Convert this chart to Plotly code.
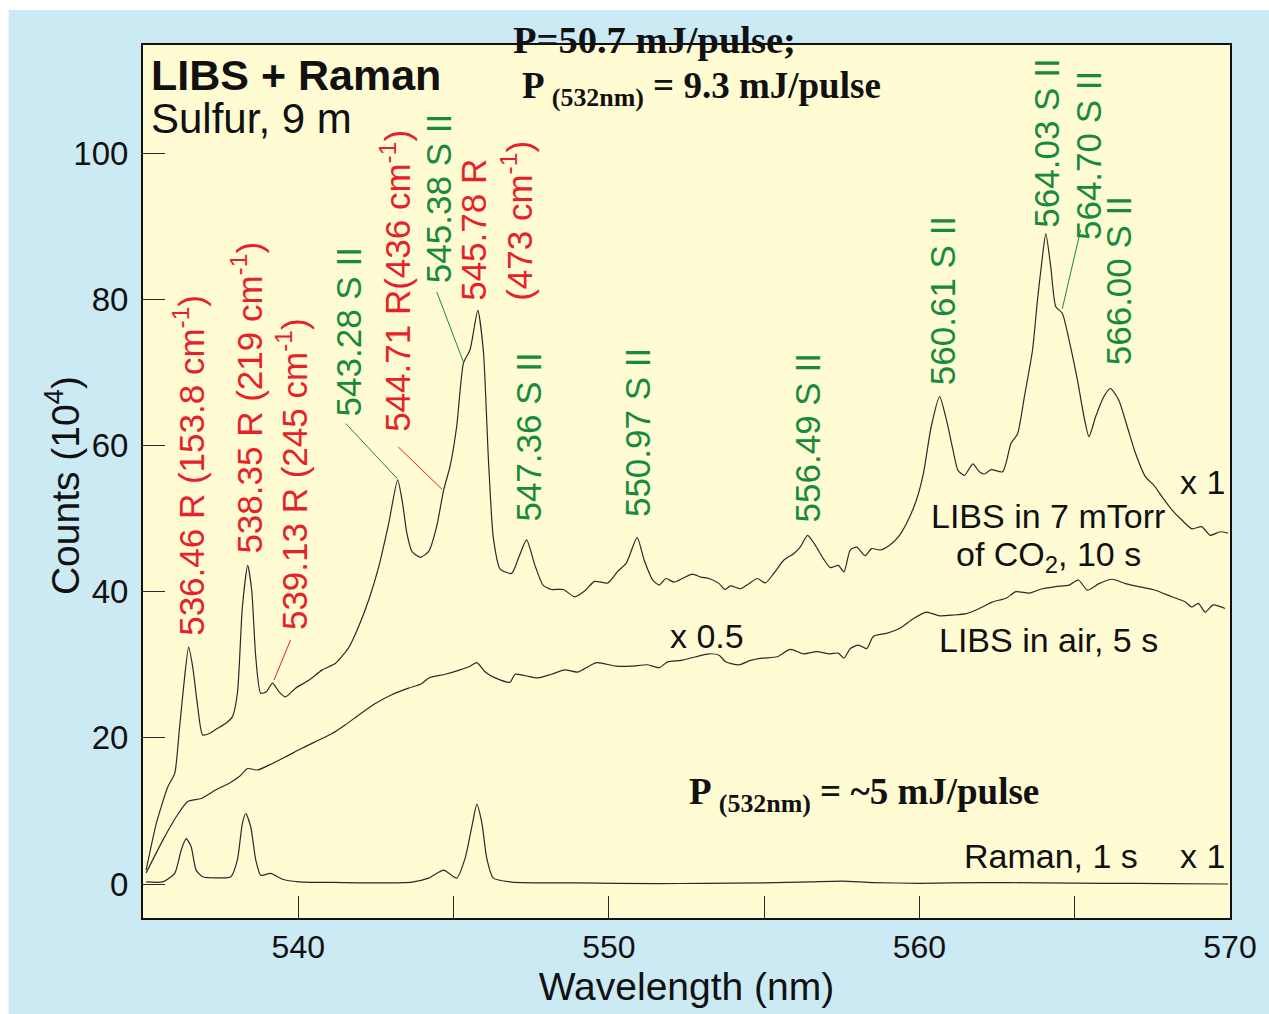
import plotly.graph_objects as go

# ---------------- data ----------------
co2_x = [535.1, 535.43, 535.8, 536.02, 536.17, 536.33, 536.47, 536.6, 536.76, 536.92, 537.14, 537.4, 537.67,
         537.88, 538.04, 538.2, 538.37, 538.5, 538.63, 538.79, 538.97, 539.17, 539.38, 539.59, 539.91, 540.35,
         540.77, 541.2, 541.63, 541.94, 542.27, 542.59, 542.91, 543.2, 543.35, 543.5, 543.66, 543.93, 544.2,
         544.46, 544.68, 544.89, 545.1, 545.32, 545.53, 545.78, 545.96, 546.12, 546.28, 546.5, 546.87, 547.1,
         547.35, 547.62, 547.88, 548.15, 548.53, 548.9, 549.22, 549.54, 549.97, 550.29, 550.56, 550.91, 551.14,
         551.41, 551.62, 551.84, 552.1, 552.37, 552.69, 552.96, 553.23, 553.55, 553.73, 553.92, 554.24, 554.51,
         554.78, 555.04, 555.31, 555.63, 555.95, 556.16, 556.4, 556.64, 556.91, 557.13, 557.39, 557.57, 557.77,
         557.98, 558.25, 558.46, 558.73, 559.05, 559.32, 559.58, 559.9, 560.12, 560.38, 560.65, 560.87, 561.08,
         561.24, 561.45, 561.72, 561.93, 562.09, 562.31, 562.68, 562.95, 563.16, 563.38, 563.64, 563.8, 563.96,
         564.07, 564.23, 564.39, 564.6, 564.82, 565.09, 565.3, 565.46, 565.67, 565.94, 566.15, 566.42, 566.69,
         566.96, 567.28, 567.54, 567.81, 568.13, 568.45, 568.77, 569.09, 569.36, 569.68, 569.94]
co2_y = [1.9, 8.3, 13.3, 15.1, 21.1, 27.9, 32.4, 29.7, 24.3, 20.4, 20.6, 21.3, 22.0,
         22.9, 26.1, 37.9, 43.6, 40.2, 31.1, 26.1, 26.3, 27.5, 26.3, 25.6, 26.8, 27.9,
         29.3, 30.2, 32.4, 35.2, 38.9, 43.4, 49.3, 55.3, 52.3, 47.9, 45.5, 44.7, 45.5,
         49.0, 53.9, 57.2, 62.6, 71.3, 73.1, 78.5, 72.9, 58.3, 47.4, 43.1, 42.5, 44.7,
         47.1, 43.6, 40.9, 40.3, 40.3, 39.3, 40.1, 41.4, 41.2, 42.8, 43.9, 47.4, 44.3,
         41.6, 40.9, 41.8, 41.3, 41.8, 42.4, 42.0, 41.8, 41.1, 40.3, 40.8, 40.4, 41.1,
         41.8, 41.2, 42.5, 44.3, 45.2, 46.1, 47.7, 46.4, 44.5, 43.3, 43.6, 42.7, 45.7,
         46.1, 44.9, 45.9, 45.7, 46.4, 47.5, 49.3, 52.5, 56.0, 62.6, 66.7, 63.5, 59.4,
         56.6, 55.9, 57.5, 56.4, 56.1, 56.7, 56.4, 60.3, 61.6, 66.7, 73.0, 79.9, 85.8,
         89.0, 84.4, 79.0, 78.1, 74.4, 68.9, 63.9, 61.2, 63.9, 66.7, 67.8, 66.2, 62.6,
         58.9, 55.7, 54.6, 53.0, 51.2, 49.8, 48.6, 48.9, 47.7, 48.2, 48.0]

air_x = [535.1, 535.64, 536.07, 536.44, 536.87, 537.35, 537.78, 538.1, 538.37, 538.69, 539.17, 539.59, 540.13,
         540.66, 541.09, 541.52, 541.94, 542.48, 543.01, 543.55, 543.97, 544.2, 544.73, 545.21, 545.53, 545.75,
         546.02, 546.34, 546.82, 546.98, 547.3, 547.72, 548.15, 548.58, 549.0, 549.6, 550.23, 550.72, 551.25,
         551.62, 551.89, 552.32, 552.8, 553.23, 553.55, 553.76, 554.19, 554.56, 554.94, 555.42, 555.84, 556.27,
         556.7, 557.12, 557.39, 557.57, 557.77, 558.04, 558.3, 558.52, 558.94, 559.37, 559.8, 560.22, 560.65,
         561.08, 561.51, 561.93, 562.36, 562.79, 563.11, 563.54, 563.96, 564.39, 564.82, 565.12, 565.41, 565.78,
         566.21, 566.63, 567.06, 567.6, 568.13, 568.56, 568.77, 568.98, 569.2, 569.46, 569.84]
air_y = [1.5, 6.0, 9.2, 11.3, 11.7, 12.9, 13.8, 14.7, 15.8, 15.6, 16.5, 17.4, 18.6,
         19.7, 20.6, 21.8, 23.1, 24.7, 25.9, 26.8, 27.4, 28.2, 28.7, 29.3, 29.8, 30.3,
         29.0, 28.2, 27.6, 28.7, 28.5, 28.2, 28.7, 29.3, 29.0, 30.3, 29.8, 29.8, 30.0,
         29.6, 30.4, 30.6, 31.1, 31.5, 31.3, 30.4, 30.0, 30.6, 30.9, 31.1, 32.1, 31.5,
         31.8, 31.5, 31.6, 30.9, 32.2, 32.7, 32.2, 33.9, 34.3, 35.0, 36.3, 37.2, 36.7,
         36.8, 37.0, 37.7, 38.6, 39.1, 40.0, 39.8, 40.4, 40.7, 40.9, 41.6, 40.2, 41.1,
         41.7, 41.1, 40.7, 40.2, 39.3, 38.6, 37.9, 38.4, 37.2, 38.2, 37.7]

raman_x = [535.1, 535.64, 536.02, 536.23, 536.39, 536.55, 536.71, 536.92, 537.46, 537.83, 538.04, 538.2, 538.31,
           538.47, 538.63, 538.79, 539.11, 539.49, 540.02, 541.41, 542.6, 543.66, 544.2, 544.68, 545.1, 545.37,
           545.59, 545.75, 545.91, 546.07, 546.28, 546.87, 549.0, 551.57, 553.0, 555.0, 556.5, 557.5, 558.5,
           560.0, 562.0, 564.0, 566.0, 568.0, 569.94]
raman_y = [0.3, 0.3, 1.45, 4.65, 6.2, 5.1, 1.9, 1.0, 0.85, 1.0, 3.3, 8.3, 9.65,
           7.8, 3.3, 1.2, 1.45, 0.65, 0.3, 0.2, 0.15, 0.27, 0.8, 1.9, 0.8, 3.5,
           7.9, 10.9, 8.4, 3.5, 0.8, 0.27, 0.15, 0.05, 0.1, 0.15, 0.3, 0.4, 0.2,
           0.1, 0.2, 0.15, 0.1, 0.05, 0.0]

x_tickvals = [540, 545, 550, 555, 560, 565, 570]
x_ticktext = ["540", "", "550", "", "560", "", "570"]
y_tickvals = [0, 20, 40, 60, 80, 100]

# peak labels: text, x, y (label centre), colour key
peak_labels = [
    ("536.46 R (153.8 cm<sup>-1</sup>)", 536.50, 57.3, "r"),
    ("538.35 R (219 cm<sup>-1</sup>)", 538.36, 66.6, "r"),
    ("539.13 R (245 cm<sup>-1</sup>)", 539.80, 56.1, "r"),
    ("543.28 S II", 541.63, 75.6, "g"),
    ("544.71 R(436 cm<sup>-1</sup>)", 543.14, 82.5, "r"),
    ("545.38 S II", 544.52, 93.8, "g"),
    ("545.78 R<br>(473 cm<sup>-1</sup>)", 546.38, 90.8, "r"),
    ("547.36 S II", 547.40, 61.1, "g"),
    ("550.97 S II", 550.93, 61.8, "g"),
    ("556.49 S II", 556.41, 61.1, "g"),
    ("560.61 S II", 560.74, 79.8, "g"),
    ("564.03 S II", 564.10, 101.4, "g"),
    ("564.70 S II", 565.45, 99.7, "g"),
    ("566.00 S II", 566.40, 82.5, "g"),
]
# leader lines: x0, y0, x1, y1, colour key
leaders = [
    (539.75, 33.4, 539.22, 27.9, "r"),
    (541.53, 63.0, 543.18, 55.5, "g"),
    (543.22, 59.8, 544.63, 54.0, "r"),
    (544.46, 81.0, 545.32, 71.4, "g"),
    (565.19, 89.5, 564.60, 78.7, "g"),
]

RED = "#e8202a"
GREEN = "#178a3c"
COL = {"r": RED, "g": GREEN}
SANS = "Liberation Sans, Arial, Helvetica, sans-serif"
SERIF = "Liberation Serif, Times New Roman, serif"
LINE = "#2a2a2a"

fig = go.Figure()
for xs, ys in [(co2_x, co2_y), (air_x, air_y), (raman_x, raman_y)]:
    fig.add_trace(go.Scatter(x=xs, y=ys, mode="lines", line=dict(color=LINE, width=1.2, shape="spline",
                                                                 smoothing=0.6),
                             showlegend=False, hoverinfo="skip"))

annotations = []
for txt, x, y, c in peak_labels:
    annotations.append(dict(x=x, y=y, xref="x", yref="y", text=txt, textangle=-90, showarrow=False,
                            xanchor="center", yanchor="middle", align="left",
                            font=dict(family=SANS, size=35, color=COL[c])))

def ann(text, x, y, size, family=SANS, xanchor="center", xref="x", yref="y", angle=0):
    annotations.append(dict(x=x, y=y, xref=xref, yref=yref, text=text, showarrow=False,
                            xanchor=xanchor, yanchor="middle", textangle=angle,
                            font=dict(family=family, size=size, color="#111")))

ann("<b>LIBS + Raman</b>", 535.20, 110.7, 43, xanchor="left")
ann("Sulfur, 9 m", 535.20, 104.8, 42, xanchor="left")
ann("<b>P=50.7 mJ/pulse;</b>", 0.3390, 1.0060, 38.5, family=SERIF, xanchor="left", xref="paper", yref="paper")
ann("<b>P <sub>(532nm)</sub> = 9.3 mJ/pulse</b>", 547.15, 108.9, 37, family=SERIF, xanchor="left")
ann("<b>P <sub>(532nm)</sub> = ~5 mJ/pulse</b>", 552.50, 12.3, 37, family=SERIF, xanchor="left")
ann("x 1", 569.10, 55.0, 34)
ann("LIBS in 7 mTorr", 564.15, 50.4, 34)
ann("of CO<sub>2</sub>, 10 s", 564.15, 44.8, 34)
ann("LIBS in air, 5 s", 564.15, 33.4, 34)
ann("x 0.5", 553.17, 33.9, 34)
ann("Raman, 1 s", 564.25, 3.8, 34)
ann("x 1", 569.10, 3.8, 34)
# y axis title placed as rotated text left of the tick labels
ann("Counts (10<sup>4</sup>)", -0.0745, 0.4948, 39, xref="paper", yref="paper", angle=-90)

shapes = []
for x0, y0, x1, y1, c in leaders:
    shapes.append(dict(type="line", xref="x", yref="y", x0=x0, y0=y0, x1=x1, y1=y1,
                       line=dict(color=COL[c], width=1)))
# white page edge (top & left)
shapes.append(dict(type="rect", xref="paper", yref="paper", x0=-0.2, x1=1.1, y0=1.0401, y1=1.08,
                   fillcolor="white", line=dict(width=0), layer="below"))
shapes.append(dict(type="rect", xref="paper", yref="paper", x0=-0.2, x1=-0.1236, y0=-0.2, y1=1.1,
                   fillcolor="white", line=dict(width=0), layer="below"))

fig.update_layout(
    width=1269, height=1014,
    margin=dict(l=143, r=34, t=45, b=96),
    paper_bgcolor="#cbeaf4",
    plot_bgcolor="#fffcd4",
    annotations=annotations,
    shapes=shapes,
    xaxis=dict(range=[535, 570], tickvals=x_tickvals, ticktext=x_ticktext, ticks="inside", ticklen=22,
               tickwidth=1.2, tickcolor=LINE, showgrid=False, zeroline=False, showline=True, mirror=True,
               linecolor="#111", linewidth=2,
               tickfont=dict(family=SANS, size=32, color="#111"),
               title=dict(text="Wavelength (nm)", font=dict(family=SANS, size=39, color="#111"), standoff=6)),
    yaxis=dict(range=[-4.65, 114.8], tickvals=y_tickvals, ticks="inside", ticklen=22,
               tickwidth=1.2, tickcolor=LINE, showgrid=False, zeroline=False, showline=True, mirror=True,
               linecolor="#111", linewidth=2, ticklabelstandoff=6,
               tickfont=dict(family=SANS, size=33, color="#111")),
)

fig.write_html("out.html", config={"displayModeBar": False},
               post_script="document.body.style.margin='0';document.body.style.overflow='hidden';")
